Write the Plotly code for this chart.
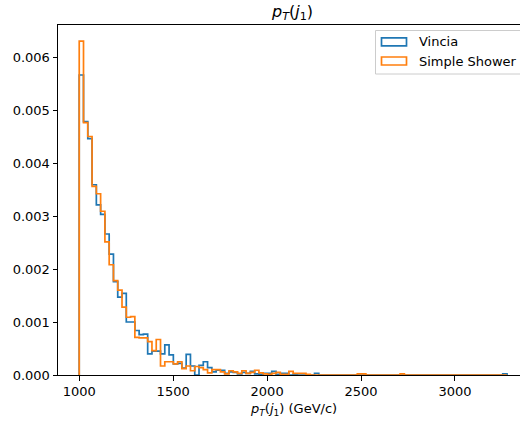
import plotly.graph_objects as go

# Histogram binning (shared by both samples)
bin_start = 1000.0
bin_width = 22.77
n_bins = 100

# Normalised bin contents (density, units of 1e-3 per GeV/c)
vincia = [5.66, 4.78, 4.46, 3.59, 3.21, 3.03, 2.66, 2.28, 1.76, 1.47,
          1.54, 1.00, 1.00, 0.84, 0.76, 0.77, 0.40, 0.45, 0.45, 0.40,
          0.57, 0.38, 0.21, 0.22, 0.13, 0.39, 0.17, 0.00, 0.18, 0.25,
          0.14, 0.06, 0.09, 0.09, 0.03, 0.06, 0.05, 0.02, 0.05, 0.03,
          0.07, 0.02, 0.01, 0.03, 0.03, 0.07, 0.01, 0.03, 0.03, 0.00,
          0.01, 0.00, 0.00, 0.00, 0.00, 0.03, 0.00, 0.00, 0.00, 0.00,
          0.00, 0.00, 0.00, 0.00, 0.00, 0.00, 0.00, 0.00, 0.00, 0.00,
          0.00, 0.00, 0.00, 0.00, 0.00, 0.00, 0.00, 0.00, 0.00, 0.00,
          0.00, 0.00, 0.00, 0.00, 0.00, 0.00, 0.00, 0.00, 0.00, 0.00,
          0.00, 0.00, 0.00, 0.00, 0.00, 0.00, 0.00, 0.00, 0.00, 0.02]

simple_shower = [6.30, 4.76, 4.50, 3.56, 3.42, 3.09, 2.51, 2.08, 1.78, 1.60,
                 1.28, 1.09, 1.10, 0.71, 0.70, 0.70, 0.63, 0.46, 0.67, 0.17,
                 0.25, 0.25, 0.21, 0.25, 0.12, 0.17, 0.08, 0.16, 0.14, 0.10,
                 0.04, 0.10, 0.10, 0.06, 0.02, 0.08, 0.06, 0.03, 0.08, 0.03,
                 0.05, 0.09, 0.04, 0.02, 0.01, 0.03, 0.05, 0.01, 0.01, 0.07,
                 0.03, 0.03, 0.03, 0.01, 0.00, 0.00, 0.00, 0.00, 0.00, 0.00,
                 0.00, 0.00, 0.00, 0.00, 0.00, 0.02, 0.02, 0.00, 0.00, 0.00,
                 0.00, 0.00, 0.00, 0.00, 0.00, 0.02, 0.00, 0.00, 0.00, 0.00,
                 0.00, 0.00, 0.00, 0.00, 0.00, 0.00, 0.00, 0.00, 0.00, 0.00,
                 0.00, 0.00, 0.00, 0.00, 0.00, 0.00, 0.00, 0.00, 0.00, 0.00]

series_names = ["Vincia", "Simple Shower"]
series_colors = ["#1f77b4", "#ff7f0e"]

y_ticks = [0.000, 0.001, 0.002, 0.003, 0.004, 0.005, 0.006]
x_ticks = [1000, 1500, 2000, 2500, 3000]

edges = [bin_start + i * bin_width for i in range(n_bins + 1)]


def step_outline(values):
    xs = [edges[0]]
    ys = [0.0]
    for i, v in enumerate(values):
        xs.append(edges[i])
        ys.append(v * 1e-3)
    xs.append(edges[-1])
    ys.append(values[-1] * 1e-3)
    xs.append(edges[-1])
    ys.append(0.0)
    return xs, ys


fig = go.Figure()
for vals, name, col in zip([vincia, simple_shower], series_names, series_colors):
    xs, ys = step_outline(vals)
    fig.add_trace(go.Scatter(x=xs, y=ys, mode="lines", name=name,
                             line=dict(color=col, width=1.7, shape="hv"),
                             showlegend=False, hoverinfo="skip"))

L, T, B = 58, 25, 49
W, H = 520, 424
pw, ph = W - L, H - T - B


def px_x(p):
    return (p - L) / pw


def px_y(p):
    return (H - B - p) / ph


font = "DejaVu Sans"
fs = 13

fig.update_layout(
    width=W, height=H,
    margin=dict(l=L, r=0, t=T, b=B, pad=0),
    paper_bgcolor="white", plot_bgcolor="white",
    font=dict(family=font, size=fs, color="black"),
    xaxis=dict(range=[887, 3346], tickvals=x_ticks, ticktext=[str(v) for v in x_ticks],
               showgrid=False, zeroline=False, showline=True, linecolor="black",
               linewidth=1, mirror=True, ticks="outside", ticklen=4.5,
               tickcolor="black", tickwidth=1, tickfont=dict(size=fs)),
    yaxis=dict(range=[0, 0.0066037], tickvals=y_ticks,
               ticktext=["%.3f" % v for v in y_ticks],
               showgrid=False, zeroline=False, showline=True, linecolor="black",
               linewidth=1, mirror=False, ticks="outside", ticklen=4.5,
               tickcolor="black", tickwidth=1, tickfont=dict(size=fs)),
    showlegend=False,
)

# Title and axis label
fig.add_annotation(x=px_x(291.5), y=px_y(12), xref="paper", yref="paper",
                   text="<i>p</i><sub><i>T</i></sub>(<i>j</i><sub>1</sub>)",
                   showarrow=False, font=dict(size=16), xanchor="center", yanchor="middle")
fig.add_annotation(x=px_x(293), y=px_y(409), xref="paper", yref="paper",
                   text="<i>p</i><sub><i>T</i></sub>(<i>j</i><sub>1</sub>) (GeV/c)",
                   showarrow=False, font=dict(size=fs), xanchor="center", yanchor="middle")

# Legend (matplotlib-style patches)
fig.add_shape(type="rect", xref="paper", yref="paper",
              x0=px_x(375.5), x1=px_x(540), y0=px_y(74), y1=px_y(30.5),
              line=dict(color="#cccccc", width=1), fillcolor="rgba(255,255,255,0.8)", layer="above")
legend_rows = [41.8, 61.0]
for name, col, yc in zip(series_names, series_colors, legend_rows):
    fig.add_shape(type="rect", xref="paper", yref="paper",
                  x0=px_x(381.5), x1=px_x(406.5), y0=px_y(yc + 4), y1=px_y(yc - 4),
                  line=dict(color=col, width=1.7), fillcolor="rgba(0,0,0,0)", layer="above")
    fig.add_annotation(x=px_x(417), y=px_y(yc), xref="paper", yref="paper", text=name,
                       showarrow=False, xanchor="left", yanchor="middle", font=dict(size=fs))

fig.write_html("out.html", config={"displayModeBar": False, "staticPlot": True},
               post_script="document.body.style.margin='0';document.body.style.overflow='hidden';")
